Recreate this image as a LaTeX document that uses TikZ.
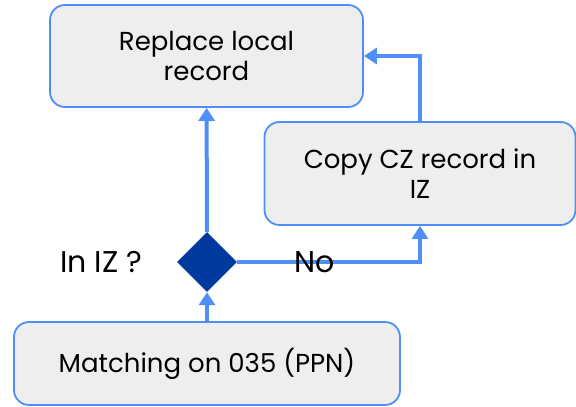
\documentclass[tikz,border=0pt]{standalone}
\usepackage{fontspec}
\setmainfont{Poppins}
\usepackage{tikz}
\usetikzlibrary{arrows.meta, shapes, positioning}
\definecolor{boxblue}{HTML}{4F8EF7}
\definecolor{boxgray}{HTML}{EEEEEE}
\definecolor{decblue}{HTML}{003A9E}

\tikzset{
  stepbox/.style={draw=boxblue, line width=1.8pt, fill=boxgray, rounded corners=15pt,
    align=center, font=\fontsize{26}{30}\selectfont, inner sep=0pt},
  decision/.style={diamond, fill=decblue, minimum width=60pt, minimum height=60pt, inner sep=0pt},
  lbl/.style={font=\fontsize{30}{34}\selectfont},
  flow/.style={draw=boxblue, line width=4pt, -{Triangle[length=13pt, width=16pt]}}
}

\begin{document}
\begin{tikzpicture}[x=1pt, y=1pt]
\useasboundingbox (0,0) rectangle (576,-407);
\node[stepbox, minimum width=313pt, minimum height=102pt] (replace) at (206.5,-56) {Replace local\\record};
\node[stepbox, minimum width=311pt, minimum height=103pt] (copy) at (420,-173.5) {Copy CZ record in\\IZ};
\node[stepbox, minimum width=386pt, minimum height=83pt] (match) at (207,-363.5) {Matching on 035 (PPN)};
\node[decision] (dec) at (207,-262) {};
\node[lbl] (iniz) at (101,-262) {In IZ ?};

\draw[flow] (match) -- (dec);
\draw[flow] (dec) -- (replace);
\draw[flow] (dec.east) -| (copy.south);
\draw[flow] (copy.north) |- (replace.east);

\node[lbl] (no) at (315,-262) {No};
\end{tikzpicture}
\end{document}
